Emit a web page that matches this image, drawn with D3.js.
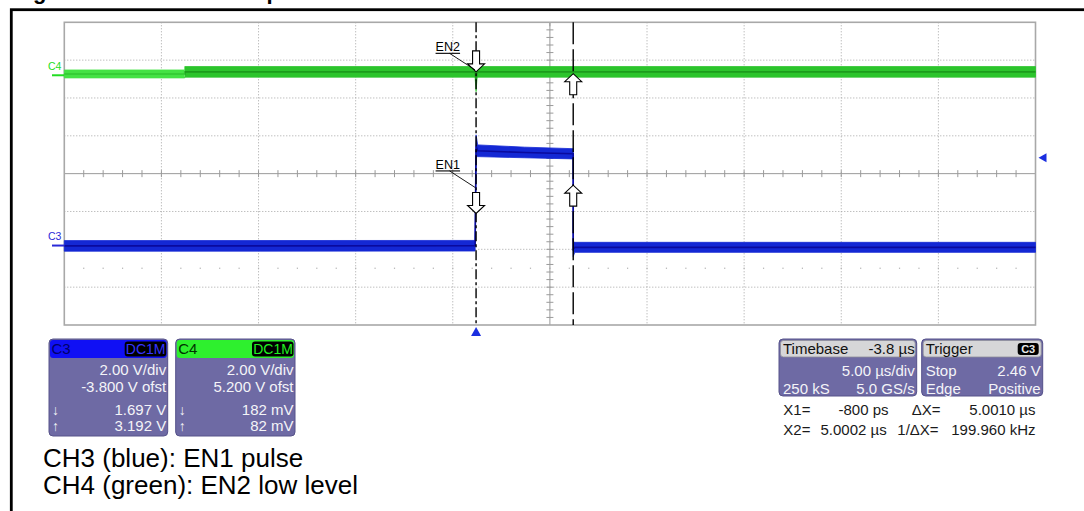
<!DOCTYPE html>
<html>
<head>
<meta charset="utf-8">
<script src="https://cdn.jsdelivr.net/npm/d3@7"></script>
<style>
  html, body { margin: 0; padding: 0; background: #ffffff; }
  svg { display: block; }
  text { font-family: "Liberation Sans", Arial, sans-serif; }
</style>
</head>
<body>
<svg id="chart" width="1084" height="511"></svg>
<script>
// ---------------- data ----------------
const titleText = "Figure 10. EN1 and EN2 pulse";
const captionLines = ["CH3 (blue): EN1 pulse", "CH4 (green): EN2 low level"];

// timebase: 5 µs/div, 10 divisions, trigger delay -3.8 µs -> screen spans -21.2 .. 28.8 µs
const timeDomain = [-21.2, 28.8];
const timeDivisions = 10;
const voltDivisions = 8;
const voltsPerDiv = 2.0;
const c3Offset = -3.8;
const c4Offset = 5.2;

// CH3 (blue) envelope: time (µs), band low (V), band high (V)
const c3Time = [-21.2, -0.05, 0.0, 0.08, 2.5, 5.0, 5.0, 5.08, 28.8];
const c3Low  = [-0.30, -0.29, 4.68, 4.70, 4.64, 4.58, -0.58, -0.36, -0.36];
const c3High = [0.26, 0.27, 5.85, 5.32, 5.20, 5.12, 0.22, 0.17, 0.17];

// CH4 (green) envelope
const c4Time = [-21.2, -15.0, -15.0, -0.05, 0.0, 0.05, 28.8];
const c4Low  = [-0.14, -0.14, -0.10, -0.10, -0.87, -0.10, -0.10];
const c4High = [0.28, 0.28, 0.46, 0.46, 0.30, 0.46, 0.46];

// cursors
const cursorTimes = [-0.0008, 5.0002];
const c3CursorLevels = [1.697, 3.192];   // down arrow, up arrow
const c4CursorLevels = [0.182, 0.082];
const triggerLevelMarker = 4.64;        // on-screen trigger marker (CH3 volts)

// panels
const c3Panel = { name: "C3", coupling: "DC1M", rows: ["2.00 V/div", "-3.800 V ofst"], down: "1.697 V", up: "3.192 V" };
const c4Panel = { name: "C4", coupling: "DC1M", rows: ["2.00 V/div", "5.200 V ofst"], down: "182 mV", up: "82 mV" };
const timebaseRows = [["Timebase", "-3.8 µs"], ["", "5.00 µs/div"], ["250 kS", "5.0 GS/s"]];
const triggerRows  = [["Trigger", "C3"], ["Stop", "2.46 V"], ["Edge", "Positive"]];
const readoutRows  = [["X1=", "-800 ps", "ΔX=", "5.0010 µs"], ["X2=", "5.0002 µs", "1/ΔX=", "199.960 kHz"]];

// ---------------- drawing ----------------
const svg = d3.select("#chart");
const P = { left: 64.3, right: 1035.5, top: 22.3, bottom: 325 };

const x = d3.scaleLinear().domain(timeDomain).range([P.left, P.right]);
const halfSpan = voltDivisions / 2 * voltsPerDiv;
const yC3 = d3.scaleLinear().domain([-c3Offset - halfSpan, -c3Offset + halfSpan]).range([P.bottom, P.top]);
const yC4 = d3.scaleLinear().domain([-c4Offset - halfSpan, -c4Offset + halfSpan]).range([P.bottom, P.top]);
const divT = (timeDomain[1] - timeDomain[0]) / timeDivisions;
const divY = (P.bottom - P.top) / voltDivisions;
const cx = x(timeDomain[0] + divT * timeDivisions / 2);
const cy = (P.top + P.bottom) / 2;

// title (clipped at top of page)
svg.append("text").attr("x", 13.5).attr("y", -0.6)
  .attr("font-size", 22).attr("font-weight", "bold").attr("fill", "#000").text(titleText);

// outer frame
svg.append("rect").attr("x", 11.3).attr("y", 9.7).attr("width", 1100).attr("height", 600)
  .attr("fill", "none").attr("stroke", "#000").attr("stroke-width", 2.8);

// grid
const g = svg.append("g");
const vLines = d3.range(1, timeDivisions).map(i => timeDomain[0] + i * divT);
g.selectAll(".vg").data(vLines.filter(t => Math.abs(x(t) - cx) > 1)).join("line")
  .attr("x1", d => x(d)).attr("x2", d => x(d)).attr("y1", P.top).attr("y2", P.bottom)
  .attr("stroke", "#a4a4a4").attr("stroke-width", 1).attr("stroke-dasharray", "1,2");
const hLines = d3.range(1, voltDivisions).map(i => P.top + i * divY);
g.selectAll(".hg").data(hLines.filter(v => Math.abs(v - cy) > 1)).join("line")
  .attr("x1", P.left).attr("x2", P.right).attr("y1", d => d).attr("y2", d => d)
  .attr("stroke", "#a4a4a4").attr("stroke-width", 1).attr("stroke-dasharray", "1,2");

// faint dot row at minor positions
const minorT = d3.range(1, timeDivisions * 5).map(i => timeDomain[0] + i * divT / 5);
g.selectAll(".dotrow").data(minorT).join("rect")
  .attr("x", d => x(d) - 0.6).attr("y", P.top + 6.5 * divY - 0.6).attr("width", 1.2).attr("height", 1.2)
  .attr("fill", "#b0b0b0");

// center axes
g.append("line").attr("x1", P.left).attr("x2", P.right).attr("y1", cy).attr("y2", cy)
  .attr("stroke", "#9a9a9a").attr("stroke-width", 1);
g.append("line").attr("x1", cx).attr("x2", cx).attr("y1", P.top).attr("y2", P.bottom)
  .attr("stroke", "#9a9a9a").attr("stroke-width", 1);
g.selectAll(".tx").data(minorT).join("line")
  .attr("x1", d => x(d)).attr("x2", d => x(d)).attr("y1", cy - 3.5).attr("y2", cy + 3.5)
  .attr("stroke", "#9a9a9a").attr("stroke-width", 1);
const minorY = d3.range(1, voltDivisions * 5).map(i => P.top + i * divY / 5);
g.selectAll(".ty").data(minorY).join("line")
  .attr("x1", cx - 3.5).attr("x2", cx + 3.5).attr("y1", d => d).attr("y2", d => d)
  .attr("stroke", "#9a9a9a").attr("stroke-width", 1);
g.append("line").attr("x1", cx).attr("x2", cx).attr("y1", P.top).attr("y2", P.top + 4).attr("stroke", "#9a9a9a");

// plot border
g.append("rect").attr("x", P.left).attr("y", P.top).attr("width", P.right - P.left).attr("height", P.bottom - P.top)
  .attr("fill", "none").attr("stroke", "#a8a8a8").attr("stroke-width", 1.6);

// traces
function drawTrace(times, lo, hi, yS, fill, core, clip) {
  const pts = times.map((t, i) => ({ t, lo: lo[i], hi: hi[i] }));
  const area = d3.area().x(d => x(d.t)).y0(d => yS(d.lo)).y1(d => yS(d.hi));
  const line = d3.line().x(d => x(d.t)).y(d => yS((d.lo + d.hi) / 2));
  const tg = svg.append("g");
  if (clip) tg.attr("clip-path", clip);
  tg.append("path").attr("d", area(pts)).attr("fill", fill).attr("stroke", fill).attr("stroke-width", 0.8);
  tg.append("path").attr("d", line(pts)).attr("fill", "none").attr("stroke", core).attr("stroke-width", 1.6);
}
const defs = svg.append("defs");
const splitX = x(c4Time[1]);
defs.append("clipPath").attr("id", "clipL").append("rect").attr("x", 0).attr("y", 0).attr("width", splitX).attr("height", 511);
defs.append("clipPath").attr("id", "clipR").append("rect").attr("x", splitX).attr("y", 0).attr("width", 1084).attr("height", 511);

drawTrace(c4Time, c4Low, c4High, yC4, "#44e244", "#30c830", "url(#clipL)");
drawTrace(c4Time, c4Low, c4High, yC4, "#2cc42c", "#1c9c1c", "url(#clipR)");
drawTrace(c3Time, c3Low, c3High, yC3, "#1428d4", "#0a0a9e", null);

// cursor lines
svg.append("line").attr("x1", x(cursorTimes[0])).attr("x2", x(cursorTimes[0]))
  .attr("y1", P.top).attr("y2", P.bottom).attr("stroke", "#000").attr("stroke-width", 1.4)
  .attr("stroke-dasharray", "10,3,3,3");
svg.append("line").attr("x1", x(cursorTimes[1])).attr("x2", x(cursorTimes[1]))
  .attr("y1", P.top).attr("y2", P.bottom).attr("stroke", "#000").attr("stroke-width", 1.4)
  .attr("stroke-dasharray", "22,5");

// hollow arrows
function arrow(px, tipY, dir) {
  const L = 21, head = 8, hw = 8.5, sw = 3.5;
  const b = tipY - dir * L, h = tipY - dir * head;
  const d = `M${px - sw},${b} L${px + sw},${b} L${px + sw},${h} L${px + hw},${h} L${px},${tipY} L${px - hw},${h} L${px - sw},${h} Z`;
  svg.append("path").attr("d", d).attr("fill", "#fff").attr("stroke", "#000").attr("stroke-width", 1.1);
}
arrow(x(cursorTimes[0]), yC4(c4CursorLevels[0]), 1);
arrow(x(cursorTimes[1]), yC4(c4CursorLevels[1]), -1);
arrow(x(cursorTimes[0]), yC3(c3CursorLevels[0]), 1);
arrow(x(cursorTimes[1]), yC3(c3CursorLevels[1]), -1);

// EN labels with underline and leader
function enLabel(txt, tipX, tipY) {
  const lx = tipX - 40.5, ly = tipY - 18.5;
  svg.append("text").attr("x", lx).attr("y", ly - 2.3).attr("font-size", 12.5).attr("fill", "#000").text(txt);
  svg.append("line").attr("x1", lx).attr("x2", lx + 24.5).attr("y1", ly).attr("y2", ly).attr("stroke", "#000").attr("stroke-width", 1.1);
  svg.append("line").attr("x1", lx + 14).attr("y1", ly).attr("x2", tipX - 1).attr("y2", tipY - 2).attr("stroke", "#000").attr("stroke-width", 0.9);
}
enLabel("EN2", x(cursorTimes[0]), yC4(c4CursorLevels[0]));
enLabel("EN1", x(cursorTimes[0]), yC3(c3CursorLevels[0]) - 24);

// channel ground markers
function chMarker(name, y0, color) {
  svg.append("line").attr("x1", 52).attr("x2", P.left).attr("y1", y0).attr("y2", y0).attr("stroke", color).attr("stroke-width", 2);
  svg.append("text").attr("x", 48).attr("y", y0 - 5.5).attr("font-size", 10.5).attr("fill", color).text(name);
}
chMarker("C4", yC4(0), "#22dd22");
chMarker("C3", yC3(0), "#2a2ad8");

// trigger markers
const trX = x(0);
svg.append("path").attr("d", `M${trX},${P.bottom + 2} L${trX + 5},${P.bottom + 11} L${trX - 5},${P.bottom + 11} Z`).attr("fill", "#1a2ee0");
const trY = yC3(triggerLevelMarker);
svg.append("path").attr("d", `M${P.right + 3},${trY} L${P.right + 11},${trY - 4.5} L${P.right + 11},${trY + 4.5} Z`).attr("fill", "#1a2ee0");

// ---------------- panels ----------------
const panelFill = "#6e6aa4", panelStroke = "#56528a", panelText = "#f4f4f8";
function chPanel(p, x0, x1, headColor, headText, badgeText) {
  const y0 = 339, y1 = 436;
  svg.append("rect").attr("x", x0).attr("y", y0).attr("width", x1 - x0).attr("height", y1 - y0)
    .attr("rx", 4).attr("fill", panelFill).attr("stroke", panelStroke).attr("stroke-width", 1);
  svg.append("rect").attr("x", x0 + 1).attr("y", y0 + 1).attr("width", x1 - x0 - 2).attr("height", 18)
    .attr("rx", 3).attr("fill", headColor);
  svg.append("text").attr("x", x0 + 2.5).attr("y", y0 + 15).attr("font-size", 15).attr("fill", headText).text(p.name);
  svg.append("rect").attr("x", x1 - 43).attr("y", y0 + 2.5).attr("width", 41.5).attr("height", 15)
    .attr("rx", 3).attr("fill", "#000");
  svg.append("text").attr("x", x1 - 22).attr("y", y0 + 15).attr("text-anchor", "middle").attr("font-size", 14)
    .attr("fill", badgeText).text(p.coupling);
  const rx = x1 - 1.5;
  svg.append("text").attr("x", rx).attr("y", 374.5).attr("text-anchor", "end").attr("font-size", 15).attr("fill", panelText).text(p.rows[0]);
  svg.append("text").attr("x", rx).attr("y", 392).attr("text-anchor", "end").attr("font-size", 15).attr("fill", panelText).text(p.rows[1]);
  svg.append("text").attr("x", rx).attr("y", 414.5).attr("text-anchor", "end").attr("font-size", 15).attr("fill", panelText).text(p.down);
  svg.append("text").attr("x", rx).attr("y", 430.5).attr("text-anchor", "end").attr("font-size", 15).attr("fill", panelText).text(p.up);
  svg.append("text").attr("x", x0 + 3).attr("y", 415).attr("font-size", 14).attr("fill", panelText).text("↓");
  svg.append("text").attr("x", x0 + 3).attr("y", 431).attr("font-size", 14).attr("fill", panelText).text("↑");
}
chPanel(c3Panel, 49, 167.7, "#1010f4", "#00006a", "#3434ff");
chPanel(c4Panel, 175.7, 295, "#2ef02e", "#003300", "#22f022");

function infoPanel(rows, x0, x1, badge) {
  const y0 = 339, y1 = 396;
  svg.append("rect").attr("x", x0).attr("y", y0).attr("width", x1 - x0).attr("height", y1 - y0)
    .attr("rx", 4).attr("fill", panelFill).attr("stroke", panelStroke).attr("stroke-width", 1);
  svg.append("rect").attr("x", x0 + 1.5).attr("y", y0 + 1.5).attr("width", x1 - x0 - 3).attr("height", 16.5)
    .attr("rx", 3).attr("fill", "#d6d6d8").attr("stroke", "#8e8e9a").attr("stroke-width", 0.8);
  const baseY = [354, 375.5, 393.5];
  rows.forEach((r, i) => {
    const col = i === 0 ? "#111" : panelText;
    if (r[0]) svg.append("text").attr("x", x0 + 4).attr("y", baseY[i]).attr("font-size", 15).attr("fill", col).text(r[0]);
    if (i === 0 && badge) {
      svg.append("rect").attr("x", x1 - 25).attr("y", y0 + 4).attr("width", 21).attr("height", 12).attr("rx", 3).attr("fill", "#000");
      svg.append("text").attr("x", x1 - 14.5).attr("y", y0 + 14).attr("text-anchor", "middle").attr("font-size", 11)
        .attr("font-weight", "bold").attr("fill", "#e8e8e8").text(r[1]);
    } else if (r[1]) {
      svg.append("text").attr("x", x1 - 2).attr("y", baseY[i]).attr("text-anchor", "end").attr("font-size", 15).attr("fill", col).text(r[1]);
    }
  });
}
infoPanel(timebaseRows, 779, 916.7, false);
infoPanel(triggerRows, 921.7, 1042.7, true);

// cursor readouts
const roY = [414.5, 434.5];
readoutRows.forEach((r, i) => {
  svg.append("text").attr("x", 783.3).attr("y", roY[i]).attr("font-size", 15).attr("fill", "#1a1a1a").text(r[0]);
  svg.append("text").attr("x", i === 0 ? 888.5 : 886.7).attr("y", roY[i]).attr("text-anchor", "end").attr("font-size", 15).attr("fill", "#1a1a1a").text(r[1]);
  svg.append("text").attr("x", i === 0 ? 911.7 : 897.3).attr("y", roY[i]).attr("font-size", 15).attr("fill", "#1a1a1a").text(r[2]);
  svg.append("text").attr("x", 1035.5).attr("y", roY[i]).attr("text-anchor", "end").attr("font-size", 15).attr("fill", "#1a1a1a").text(r[3]);
});

// caption
captionLines.forEach((t, i) => {
  svg.append("text").attr("x", 43).attr("y", 466.7 + i * 27.6).attr("font-size", 26).attr("fill", "#000").text(t);
});
</script>
</body>
</html>
